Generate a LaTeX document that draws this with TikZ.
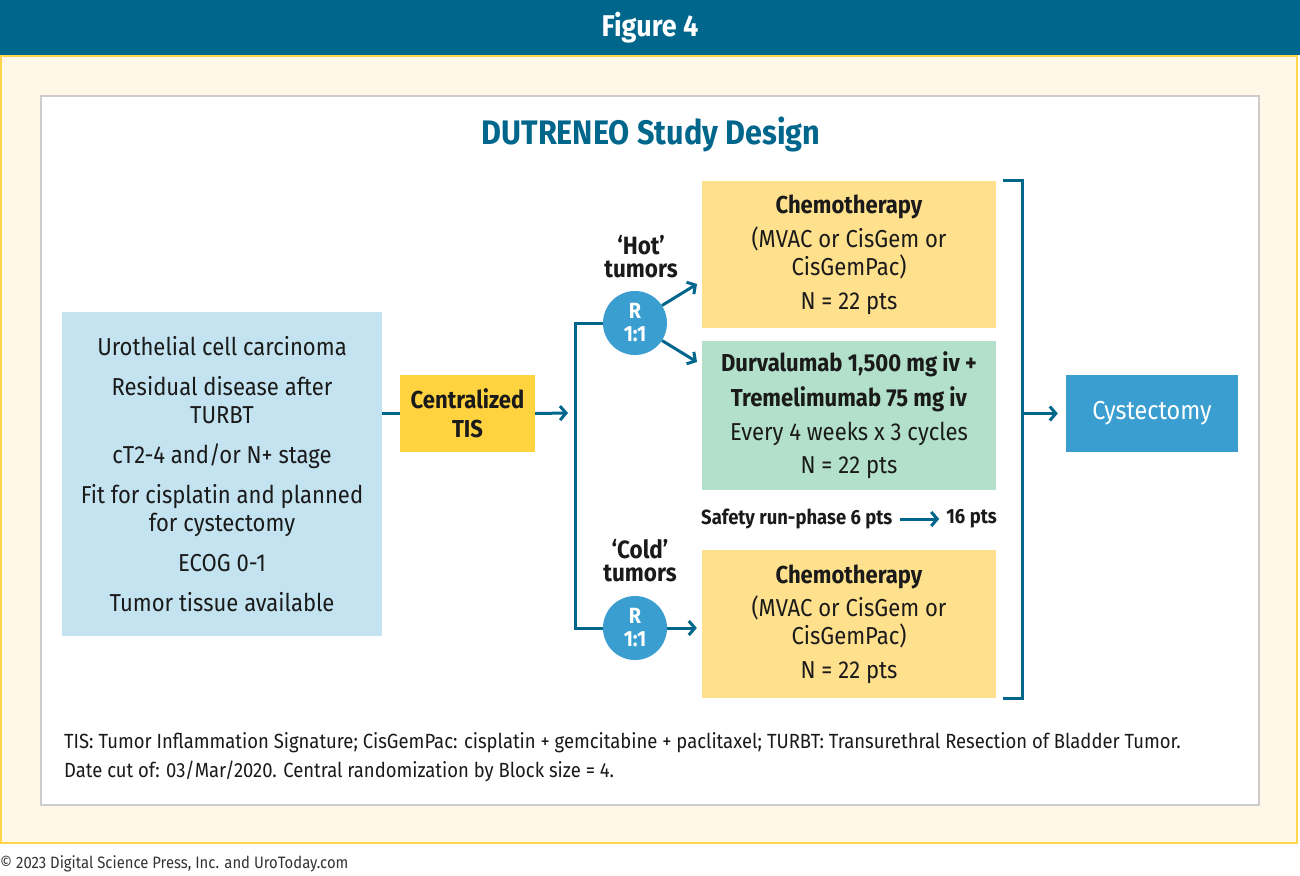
\documentclass[tikz,border=0pt]{standalone}
\usepackage{fontspec}
\setmainfont[FakeStretch=0.9]{Fira Sans}
\usetikzlibrary{arrows.meta}
\definecolor{cbar}{HTML}{00668C}
\definecolor{ccream}{HTML}{FFF8E9}
\definecolor{cyel}{HTML}{FFD54A}
\definecolor{cgray}{HTML}{CCCCCC}
\definecolor{cblue}{HTML}{C4E3F0}
\definecolor{cgold}{HTML}{FFD23F}
\definecolor{cchemo}{HTML}{FFE08C}
\definecolor{cgreen}{HTML}{B2E0CB}
\definecolor{ccirc}{HTML}{3A9FD0}
\definecolor{ctext}{HTML}{1A1A1A}
\newcommand\fsz[2]{\fontsize{#1}{#2}\selectfont}
\begin{document}
\begin{tikzpicture}[x=1pt,y=-1pt,
  box/.style={inner sep=0pt, align=center, text=ctext, font=\fsz{24.5}{28}},
  circ/.style={circle, fill=ccirc, minimum size=64pt, inner sep=0pt, align=center, text=white, font=\fsz{22}{23}\bfseries},
  lbl/.style={inner sep=0pt, align=center, text=ctext, font=\fsz{25}{23}\bfseries},
  conn/.style={cbar, line width=3pt},
  arr/.style={conn, -{Straight Barb[length=6pt,width=14pt]}}]
\useasboundingbox (0,0) rectangle (1300,875);
\fill[white] (0,0) rectangle (1300,875);
\fill[cbar] (0,0) rectangle (1300,55);
\draw[cyel, line width=2pt, fill=ccream] (1,56) rectangle (1297,843);
\draw[cgray, line width=2pt, fill=white] (41,96) rectangle (1259,805);

\node[inner sep=0pt, text=white, font=\fsz{30}{30}\bfseries] (fig) at (650,28) {Figure 4};
\node[inner sep=0pt, text=cbar, font=\fsz{34}{34}\bfseries] (title) at (651,134) {DUTRENEO Study Design};

\node[box, fill=cblue, minimum width=320pt, minimum height=324pt] (elig) at (222,474)
  {Urothelial cell carcinoma\\[12pt]Residual disease after\\TURBT\\[12pt]cT2-4 and/or N+ stage\\[12pt]Fit for cisplatin and planned\\for cystectomy\\[12pt]ECOG 0-1\\[12pt]Tumor tissue available};

\node[box, fill=cgold, minimum width=135pt, minimum height=77pt, font=\fsz{24.5}{29}\bfseries] (tis) at (467.5,413.5) {Centralized\\TIS};

\node[circ] (hot) at (635,323) {R\\1:1};
\node[circ] (cold) at (635,628) {R\\1:1};
\node[lbl] (hotl) at (641,257) {‘Hot’\\tumors};
\node[lbl] (coldl) at (640,561) {‘Cold’\\tumors};

\node[box, fill=cchemo, minimum width=294pt, minimum height=147pt] (chemo1) at (849,254.5)
  {\textbf{Chemotherapy}\\[6pt](MVAC or CisGem or\\CisGemPac)\\[6pt]N = 22 pts};
\node[box, fill=cgreen, minimum width=294pt, minimum height=149pt] (durva) at (849,415.5)
  {\textbf{Durvalumab 1,500 mg iv +}\\[7pt]\textbf{Tremelimumab 75 mg iv}\\[6pt]Every 4 weeks x 3 cycles\\[5pt]N = 22 pts};
\node[box, fill=cchemo, minimum width=294pt, minimum height=148pt] (chemo2) at (849,624)
  {\textbf{Chemotherapy}\\[5pt](MVAC or CisGem or\\CisGemPac)\\[6pt]N = 22 pts};

\node[inner sep=0pt, anchor=west, text=ctext, font=\fsz{20.5}{20}\bfseries] (safety) at (701,519) {Safety run-phase 6 pts};
\node[inner sep=0pt, anchor=east, text=ctext, font=\fsz{20.5}{20}\bfseries] (pts16) at (997,519) {16 pts};

\node[inner sep=0pt, fill=ccirc, minimum width=172pt, minimum height=77pt, text=white, font=\fsz{26}{26}] (cyst) at (1152,413.5) {Cystectomy};

\node[inner sep=0pt, anchor=west, text=ctext, font=\fsz{20.5}{20}] (fn1) at (64,743) {TIS: Tumor Inflammation Signature; CisGemPac: cisplatin + gemcitabine + paclitaxel; TURBT: Transurethral Resection of Bladder Tumor.};
\node[inner sep=0pt, anchor=west, text=ctext, font=\fsz{20.5}{20}] (fn2) at (64,771) {Date cut of: 03/Mar/2020. Central randomization by Block size = 4.};
\node[inner sep=0pt, anchor=west, text=black!80, font=\fsz{16.5}{16}] (copy) at (0,864) {© 2023 Digital Science Press, Inc. and UroToday.com};

% connectors
\coordinate (tisend) at (568,413);
\coordinate (vt) at (575,323);
\coordinate (vb) at (575,628);
\coordinate (ht1) at (697,284);
\coordinate (ht2) at (697,362);
\coordinate (bt0) at (1003,180);
\coordinate (bt1) at (1022,180);
\coordinate (bb1) at (1022,698);
\coordinate (bb0) at (1003,698);
\coordinate (bm) at (1022,413.5);

\draw[conn] (elig.east |- tis.west) -- (tis.west);
\draw[arr] (tis.east) -- (tisend);
\draw[conn] (hot.west) -- (vt) -- (vb) -- (cold.west);
\draw[arr] (hot.33) -- (ht1);
\draw[arr] (hot.-33) -- (ht2);
\draw[arr, shorten >=5pt] (cold.east) -- (cold.east -| chemo2.west);
\draw[arr, shorten <=7pt, shorten >=7pt] (safety.east) -- (pts16.west);
\draw[conn] (bt0) -- (bt1) -- (bb1) -- (bb0);
\draw[arr, shorten >=8pt] (bm) -- (cyst.west);
\end{tikzpicture}
\end{document}
